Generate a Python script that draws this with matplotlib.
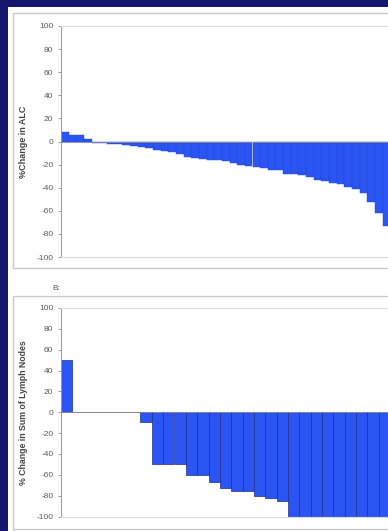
import matplotlib
matplotlib.use('Agg')

from matplotlib import pyplot as plt
from matplotlib.patches import Rectangle

plt.rcParams['font.family'] = ['Liberation Sans', 'DejaVu Sans']

W, H = 388, 531

# panel A: % change in ALC per patient, sorted
alc_change = [8, 6, 6, 2, -1, -1, -2, -2, -3, -4, -5, -6, -7, -8, -9, -11,
              -13, -14, -15, -16, -16, -17, -19, -20, -21, -22, -23, -25,
              -25, -28, -28.5, -29, -31, -33, -34, -36, -37, -39, -41, -45,
              -52, -62, -73]

# panel B: % change in sum of lymph nodes per patient, sorted
node_change = [50, 0, 0, 0, 0, 0, 0, -9, -50, -50, -50, -60, -60, -67, -73,
               -76, -76, -80, -82, -85, -100, -100, -100, -100, -100, -100,
               -100, -100, -100]

yticks = list(range(-100, 101, 20))

NAVY = '#16166e'
BAR = '#2b55f2'
BOX = '#c9c9c9'
TXT = '#5a5a5a'


def fx(x):
    return x / W


def fy(y):
    return 1 - y / H


def setup_axes(ax, values, ylabel, edge, lw, label_size):
    n = len(values)
    ax.set_zorder(2)
    ax.bar(range(n), values, width=1.0, color=BAR,
           edgecolor=edge, linewidth=lw, zorder=2)
    ax.axhline(0, color='#8a8a9a', linewidth=0.6, zorder=3)
    ax.set_xlim(-0.5, n - 0.5)
    ax.set_ylim(-100, 100)
    ax.set_yticks(yticks)
    ax.set_yticklabels([str(t) for t in yticks])
    ax.set_xticks([])
    ax.tick_params(axis='y', length=2.5, width=0.6, pad=3,
                   labelsize=6, colors='#888888', labelcolor=TXT)
    ax.spines['left'].set_color('#999999')
    ax.spines['left'].set_linewidth(0.7)
    for s in ('top', 'bottom'):
        ax.spines[s].set_color('#dcdcdc')
        ax.spines[s].set_linewidth(0.8)
    ax.spines['right'].set_visible(False)
    ax.set_facecolor('white')
    ax.set_ylabel(ylabel, fontsize=label_size, fontweight='bold',
                  color='#444444', labelpad=6)


fig = plt.figure(figsize=(W / 100, H / 100), dpi=100, facecolor=NAVY)

# white slide area and the two chart frames
fig.patches.append(Rectangle((fx(8), 0), 1, fy(7), transform=fig.transFigure,
                             facecolor='white', edgecolor='none', zorder=0))
fig.patches.append(Rectangle((fx(13), fy(268)), 1, fy(13) - fy(268),
                             transform=fig.transFigure, facecolor='white',
                             edgecolor=BOX, linewidth=1.0, zorder=0.5))
fig.patches.append(Rectangle((fx(13), fy(529)), 1, fy(296) - fy(529),
                             transform=fig.transFigure, facecolor='white',
                             edgecolor=BOX, linewidth=1.0, zorder=0.5))

bw_a = 7.66
ax1 = fig.add_axes([fx(61), fy(257), len(alc_change) * bw_a / W,
                    (257 - 26) / H])
setup_axes(ax1, alc_change, '%Change in ALC', '#2448d0', 0.3, 6.5)

bw_b = 11.35
ax2 = fig.add_axes([fx(61), fy(516.5), len(node_change) * bw_b / W,
                    (516.5 - 308) / H])
setup_axes(ax2, node_change, '% Change in Sum of Lymph Nodes',
           '#1f2f8a', 0.5, 6.3)

fig.text(fx(52), fy(288), 'B:', fontsize=6, color=TXT, va='center')

fig.savefig('out.png', dpi=100, facecolor=NAVY)
